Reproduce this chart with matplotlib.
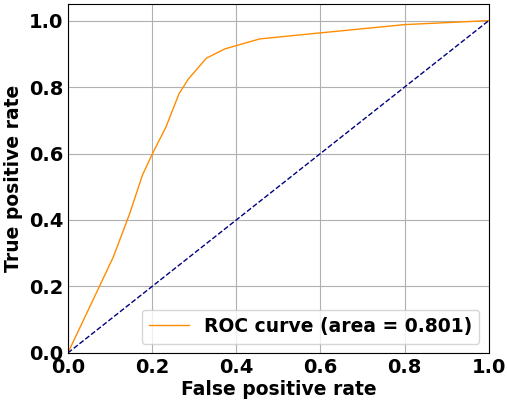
import matplotlib
matplotlib.use("Agg")
import matplotlib.pyplot as plt

# ROC points
fpr = [0.0, 0.108, 0.147, 0.177, 0.201, 0.233, 0.264, 0.286, 0.329, 0.373, 0.456, 0.575, 0.8, 1.0]
tpr = [0.0, 0.289, 0.42, 0.535, 0.6, 0.68, 0.78, 0.824, 0.887, 0.915, 0.945, 0.96, 0.988, 1.0]
roc_auc = 0.801

plt.rcParams['font.weight'] = 'bold'
plt.rcParams['font.size'] = 14

fig = plt.figure(figsize=(5.07, 4.01), dpi=100)
ax = fig.add_axes([0.134, 0.12, 0.83, 0.87])

ax.plot(fpr, tpr, color='darkorange', lw=1, label='ROC curve (area = %0.3f)' % roc_auc)
ax.plot([0, 1], [0, 1], color='navy', lw=1, linestyle='--')

ax.set_xlim(0.0, 1.0)
ax.set_ylim(0.0, 1.05)
ax.tick_params(length=0, labelsize=14)
ax.set_xlabel('False positive rate', fontweight='bold', fontsize=13.5, labelpad=2)
ax.set_ylabel('True positive rate', fontweight='bold', fontsize=13.5, labelpad=4)
ax.grid(True)
ax.legend(loc='lower right', fontsize=13.5, handlelength=2.1)

fig.savefig('out.png', dpi=100)
